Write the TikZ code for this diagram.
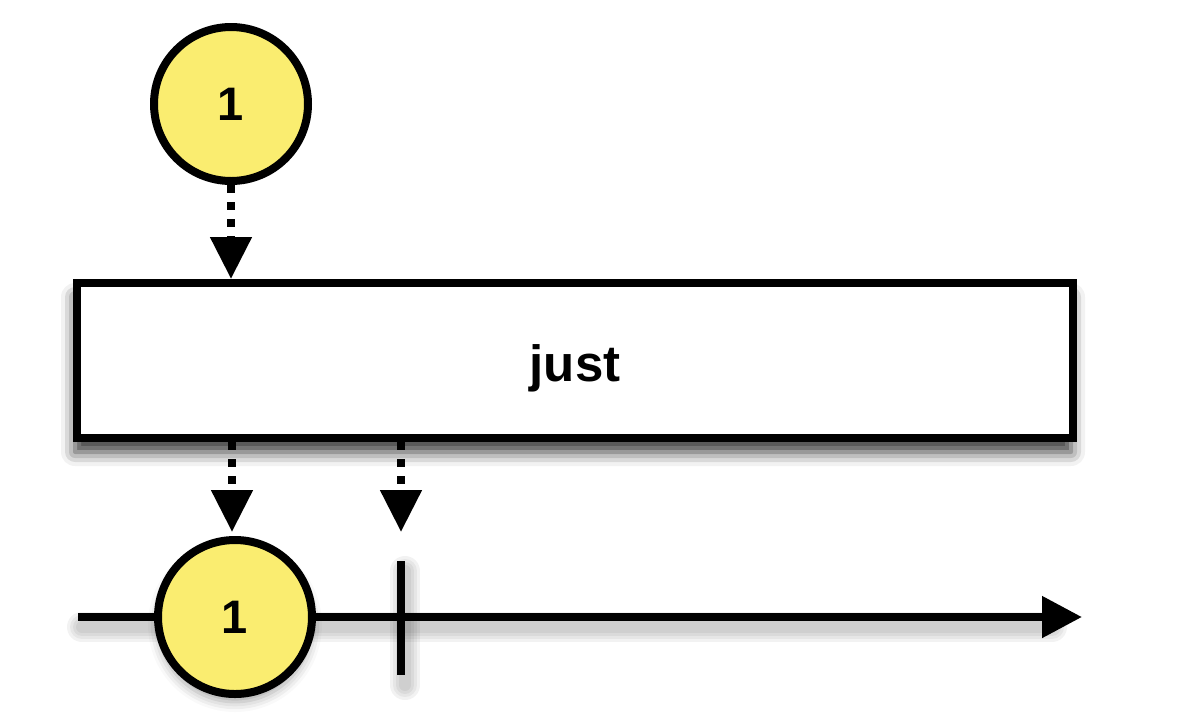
\documentclass[tikz,border=0pt]{standalone}
\usepackage{fontspec}
\setmainfont{Liberation Sans}
\usetikzlibrary{arrows.meta,shadows.blur}
\definecolor{ballyellow}{RGB}{250,237,112}
\begin{document}
\begin{tikzpicture}[x=1pt,y=-1pt,
  ball/.style={circle,draw=black,line width=8pt,fill=ballyellow,minimum size=154pt,inner sep=0pt,
    font=\fontsize{47}{50}\selectfont\bfseries},
  opbox/.style={rectangle,draw=black,line width=8pt,fill=white,minimum width=996pt,minimum height=155pt,
    font=\fontsize{51}{54}\selectfont\bfseries,text height=52pt,text depth=10pt,
    blur shadow={shadow xshift=-2pt,shadow yshift=-14pt,shadow blur radius=14pt,shadow opacity=80}},
  dotarrow/.style={line width=8pt,dash pattern=on 8pt off 9pt,-{Triangle[length=42pt,width=40pt]}},
  tline/.style={line width=8pt,-{Triangle[length=40pt,width=40pt]}},
  tick/.style={line width=8pt},
  shade/.style={line width=#1,draw=black,opacity=0.05,line cap=round}
]
\useasboundingbox (0,0) rectangle (1180,724);
% timeline
\coordinate (tl0) at (78,617);
\coordinate (tl1) at (1082,617);
\coordinate (k0) at (401,561);
\coordinate (k1) at (401,675);
\foreach \w in {30,24,18,12}{
  \draw[shade=\w pt] ([yshift=-10pt,xshift=4pt]tl0) -- ([yshift=-10pt,xshift=-30pt]tl1);
  \draw[shade=\w pt] ([yshift=-10pt,xshift=4pt]k0) -- ([yshift=-10pt,xshift=4pt]k1);
}
\draw[tline] (tl0) -- (tl1);
\draw[tick] (k0) -- (k1);
% nodes
\node[ball] (c1) at (231,104) {1};
\node[opbox] (op) at (575,360.5) {just};
\node[ball,blur shadow={shadow xshift=0pt,shadow yshift=-8pt,shadow blur radius=10pt,shadow opacity=35}] (c2) at (235,617) {1};
% arrows
\coordinate (a1) at (232,532);
\coordinate (a2) at (401,532);
\draw[dotarrow] (c1.south) -- (op.north -| c1.south);
\draw[dotarrow] (op.south -| a1) -- (a1);
\draw[dotarrow] (op.south -| a2) -- (a2);
\end{tikzpicture}
\end{document}
